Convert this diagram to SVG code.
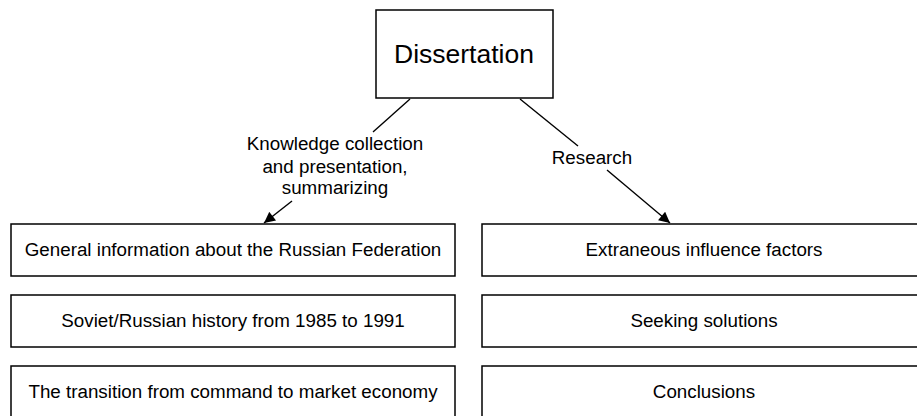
<svg xmlns="http://www.w3.org/2000/svg" width="917" height="416" viewBox="0 0 917 416">
<style>
.box{fill:#fff;stroke:#000;stroke-width:1.5}
.t{font-family:"Liberation Sans",Arial,sans-serif;font-size:18.8px;fill:#000;text-anchor:middle}
.line{stroke:#000;stroke-width:1.4;fill:none}
</style>
<defs>
<marker id="ah" viewBox="0 0 10 10" refX="10" refY="5" markerWidth="13" markerHeight="11" markerUnits="userSpaceOnUse" orient="auto">
<path d="M0,0 L10,5 L0,10 z" fill="#000"/>
</marker>
</defs>
<rect width="917" height="416" fill="#fff"/>
<g id="connectors">
<line class="line" x1="410" y1="99" x2="373" y2="132"/>
<line class="line" x1="292" y1="201" x2="264" y2="223" marker-end="url(#ah)"/>
<line class="line" x1="520" y1="99" x2="578" y2="146"/>
<line class="line" x1="607" y1="170" x2="670" y2="223" marker-end="url(#ah)"/>
<g id="label-left">
<text class="t" x="335" y="150">Knowledge collection</text>
<text class="t" x="335" y="172.5">and presentation,</text>
<text class="t" x="335" y="193.5">summarizing</text>
</g>
<text id="label-right" class="t" x="592" y="164">Research</text>
</g>
<g id="dissertation">
<rect class="box" x="376" y="10" width="177" height="88"/>
<text class="t" x="464" y="63" style="font-size:26.5px">Dissertation</text>
</g>
<g id="general">
<rect class="box" x="11" y="224" width="444" height="52"/>
<text class="t" x="233" y="256">General information about the Russian Federation</text>
</g>
<g id="history">
<rect class="box" x="11" y="295" width="444" height="52"/>
<text class="t" x="233" y="327">Soviet/Russian history from 1985 to 1991</text>
</g>
<g id="transition">
<rect class="box" x="11" y="366" width="444" height="60"/>
<text class="t" x="233" y="398">The transition from command to market economy</text>
</g>
<g id="extraneous">
<rect class="box" x="482" y="224" width="444" height="52"/>
<text class="t" x="704" y="256">Extraneous influence factors</text>
</g>
<g id="seeking">
<rect class="box" x="482" y="295" width="444" height="52"/>
<text class="t" x="704" y="327">Seeking solutions</text>
</g>
<g id="conclusions">
<rect class="box" x="482" y="366" width="444" height="60"/>
<text class="t" x="704" y="398">Conclusions</text>
</g>
</svg>
